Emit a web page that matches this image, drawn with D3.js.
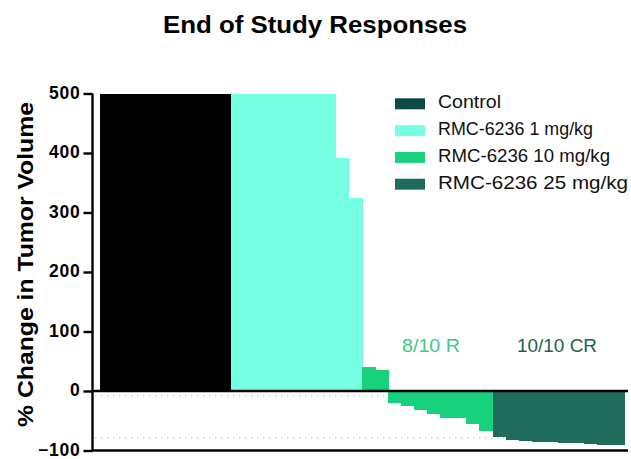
<!DOCTYPE html>
<html>
<head>
<meta charset="utf-8">
<script src="https://cdn.jsdelivr.net/npm/d3@7"></script>
<style>
  html, body { margin: 0; padding: 0; background: #fff; }
  svg { display: block; font-family: "Liberation Sans", Arial, Helvetica, sans-serif; }
</style>
</head>
<body>
<svg id="chart" width="631" height="459"></svg>
<script>
// ---- Data ----
const groups = ["Control", "RMC-6236 1 mg/kg", "RMC-6236 10 mg/kg", "RMC-6236 25 mg/kg"];
const controlValues = [500, 500, 500, 500, 500, 500, 500, 500, 500, 500];
const dose1Values   = [500, 500, 500, 500, 500, 500, 500, 500, 391, 324];
const dose10Values  = [41, 36, -20, -26, -32, -38, -45, -45, -55, -67];
const dose25Values  = [-77, -82, -84, -85, -86, -87, -88, -89, -90, -91];
const yTicks = [500, 400, 300, 200, 100, 0, -100];
const refLines = [-8, -79];
const annotations = [
  { text: "8/10 R", group: 2 },
  { text: "10/10 CR", group: 3 }
];
const title = "End of Study Responses";
const yLabel = "% Change in Tumor Volume";

const barColors = ["#000000", "#76FFE3", "#17D17C", "#1F6B5C"];
const legendColors = ["#0E4A47", "#76FFE3", "#17D17C", "#1F6B5C"];
const annotColors = ["", "", "#3CCB88", "#1F5E52"];

// ---- Build ----
const allSeries = [controlValues, dose1Values, dose10Values, dose25Values];
const bars = [];
allSeries.forEach((vals, g) => vals.forEach((v, i) => bars.push({ id: g + "-" + i, group: g, value: v })));

const svg = d3.select("#chart");

const x = d3.scaleBand().domain(bars.map(d => d.id)).range([99.5, 623.5]).padding(0);
const y = d3.scaleLinear().domain([-100, 500]).range([450.5, 93.5]);

// reference dotted lines
svg.append("g").selectAll("line").data(refLines).join("line")
  .attr("x1", 95).attr("x2", 628)
  .attr("y1", d => y(d)).attr("y2", d => y(d))
  .attr("stroke", "#cfcfcf").attr("stroke-width", 1.3)
  .attr("stroke-dasharray", "1.5,4.5");

// bars
svg.append("g").attr("shape-rendering", "crispEdges")
  .selectAll("rect").data(bars).join("rect")
  .attr("x", d => x(d.id))
  .attr("width", x.bandwidth() + 1)
  .attr("y", d => y(Math.max(0, d.value)))
  .attr("height", d => Math.abs(y(d.value) - y(0)))
  .attr("fill", d => barColors[d.group]);

// zero line and bottom line
[0, -100].forEach(v => {
  svg.append("line")
    .attr("x1", 92).attr("x2", 628)
    .attr("y1", y(v)).attr("y2", y(v))
    .attr("stroke", "#000").attr("stroke-width", 2.4);
});

// y axis
const yAxis = d3.axisLeft(y).tickValues(yTicks).tickSize(9).tickPadding(3).tickFormat(d3.format("d"));
const ga = svg.append("g").attr("transform", "translate(92.5,0)").call(yAxis);
ga.select(".domain").attr("stroke", "#000").attr("stroke-width", 2.4).attr("d", `M0,${y(500)}V${y(-100)}`);
ga.selectAll(".tick line").attr("stroke", "#000").attr("stroke-width", 2.4);
ga.selectAll(".tick text")
  .attr("fill", "#000")
  .attr("dy", "0.28em")
  .style("font-size", "17.5px").style("font-weight", "bold")
  .style("letter-spacing", "0.8px")
  .style("font-family", '"Liberation Sans", Arial, sans-serif');

// title
svg.append("text")
  .attr("x", 315).attr("y", 33)
  .attr("text-anchor", "middle")
  .style("font-size", "23px").style("font-weight", "bold")
  .attr("textLength", 304).attr("lengthAdjust", "spacingAndGlyphs")
  .text(title);

// y label
svg.append("text")
  .attr("transform", `translate(33,${(102 + 427) / 2}) rotate(-90)`)
  .attr("text-anchor", "middle")
  .style("font-size", "22.5px").style("font-weight", "bold")
  .attr("textLength", 325).attr("lengthAdjust", "spacingAndGlyphs")
  .text(yLabel);

// annotations
const annotWidths = [58, 80];
annotations.forEach((a, k) => {
  const ids = bars.filter(d => d.group === a.group).map(d => d.id);
  const cx = (x(ids[0]) + x(ids[ids.length - 1]) + x.bandwidth()) / 2;
  svg.append("text")
    .attr("x", k === 0 ? cx + 4 : cx - 1).attr("y", 352)
    .attr("text-anchor", "middle")
    .attr("fill", annotColors[a.group])
    .style("font-size", "18px")
    .attr("textLength", annotWidths[k]).attr("lengthAdjust", "spacingAndGlyphs")
    .text(a.text);
});

// legend
const legendWidths = [63, 155, 172, 190];
const lg = svg.append("g");
groups.forEach((g, i) => {
  const base = 108.3 + i * 26.8;
  lg.append("rect").attr("x", 395).attr("y", base - 10).attr("width", 30).attr("height", 11)
    .attr("fill", legendColors[i]);
  lg.append("text").attr("x", 438).attr("y", base)
    .attr("fill", "#111")
    .style("font-size", "18.5px")
    .attr("textLength", legendWidths[i]).attr("lengthAdjust", "spacingAndGlyphs")
    .text(g);
});
</script>
</body>
</html>
